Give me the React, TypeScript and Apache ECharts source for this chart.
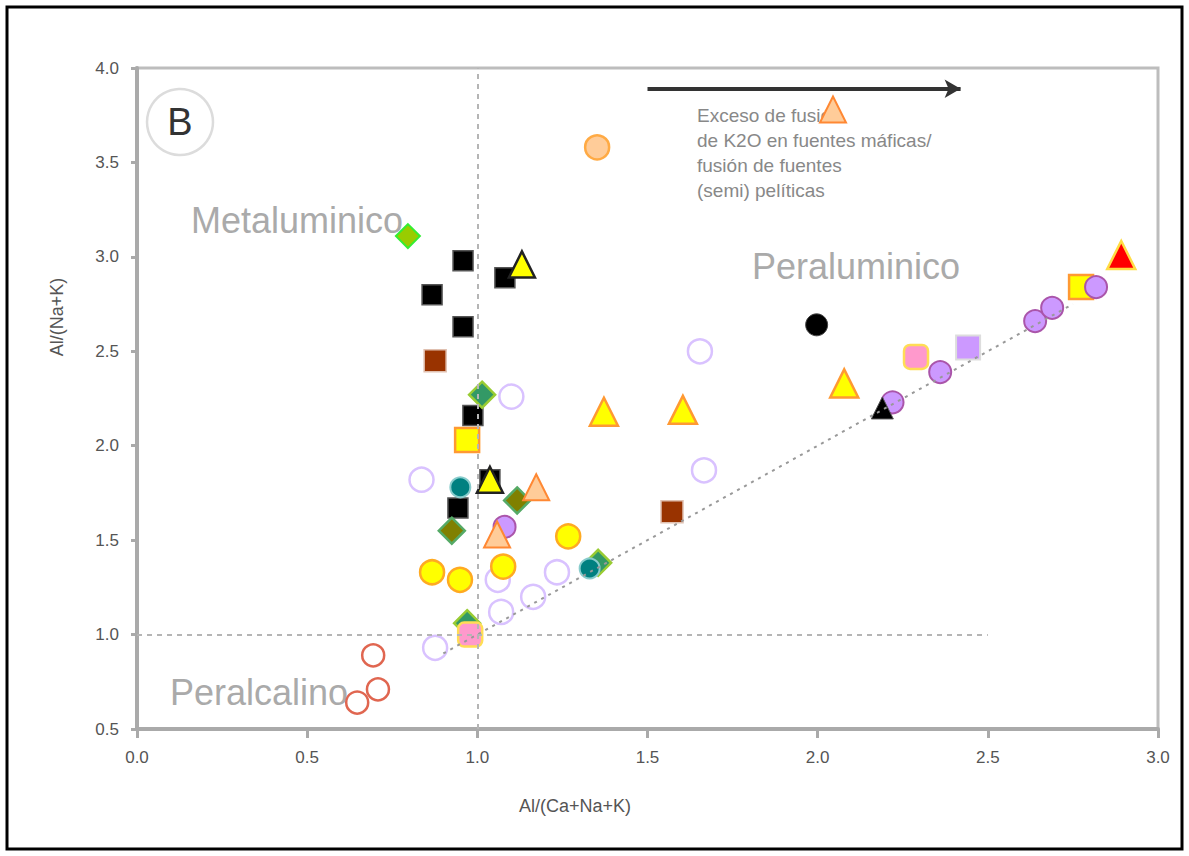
import React, { useEffect, useRef } from "react";
import * as echarts from "echarts";

// ---- data (A/CNK, A/NK) ----
const blackSquares = [[0.958, 2.98], [0.867, 2.80], [0.958, 2.63], [0.987, 2.16], [0.943, 1.67], [1.081, 2.89], [1.037, 1.82]];
const brownSquares = [[0.876, 2.45], [1.572, 1.65]];
const yellowSquares = [[0.970, 2.03], [2.774, 2.84]];
const lavenderSquares = [[2.442, 2.52]];
const pinkSquares = [[2.289, 2.47], [0.979, 1.0]];
const yellowTriBlack = [[1.131, 2.96], [1.037, 1.82]];
const yellowTriOrange = [[1.372, 2.18], [1.604, 2.19], [2.078, 2.33]];
const peachTri = [[2.045, 3.78], [1.173, 1.78], [1.058, 1.53]];
const redTri = [[2.892, 3.01]];
const blackTri = [[2.19, 2.2]];
const yellowCircles = [[0.867, 1.33], [0.949, 1.29], [1.076, 1.36], [1.267, 1.52]];
const peachCircles = [[1.352, 3.58]];
const blackCircles = [[1.997, 2.64]];
const purpleCircles = [[2.639, 2.66], [2.689, 2.73], [2.818, 2.84], [2.36, 2.39], [2.22, 2.23], [1.08, 1.57]];
const oliveDiamonds = [[0.925, 1.55], [1.117, 1.71]];
const greenDiamonds = [[1.014, 2.27], [1.355, 1.38], [0.97, 1.06]];
const limeDiamonds = [[0.796, 3.11]];
const tealCircles = [[0.95, 1.78], [1.33, 1.35]];
const hollowLavender = [[1.654, 2.5], [1.1, 2.26], [0.836, 1.82], [1.666, 1.87], [1.234, 1.33], [1.164, 1.2], [1.07, 1.12], [1.06, 1.29], [0.876, 0.93]];
const hollowRed = [[0.694, 0.89], [0.708, 0.71], [0.647, 0.64]];

const refLineY1 = 1.0;
const refLineX1 = 1.0;
const equalLine = [[0.9, 0.9], [2.75, 2.75]];
const arrowLine = [[1.5, 3.89], [2.42, 3.89]];
const annotationLines = ["Exceso de fusión", "de K2O en fuentes máficas/", "fusión de fuentes", "(semi) pelíticas"];

function sc(name: string, data: number[][], symbol: string, size: number, fill: string, border: string, bw: number) {
  return {
    name,
    type: "scatter",
    data,
    symbol,
    symbolSize: size,
    itemStyle: { color: fill, borderColor: border, borderWidth: bw, opacity: 1 },
    emphasis: { disabled: true },
  };
}

export default function App() {
  const ref = useRef<HTMLDivElement>(null);
  useEffect(() => {
    const chart = echarts.init(ref.current!, null, { renderer: "svg" });
    const gray = "#aaaaaa";
    const option: any = {
      animation: false,
      backgroundColor: "#ffffff",
      grid: { left: 137, right: 31, top: 68, bottom: 127, show: true, borderColor: "#bdbdbd", borderWidth: 3 },
      xAxis: {
        type: "value", min: 0, max: 3, interval: 0.5,
        axisLine: { show: true, lineStyle: { color: gray, width: 4 } },
        axisTick: { show: true, length: 9, lineStyle: { color: gray, width: 3 } },
        axisLabel: { formatter: (v: number) => v.toFixed(1), color: "#555", fontSize: 17, margin: 20, fontFamily: "Liberation Sans" },
        splitLine: { show: false },
      },
      yAxis: {
        type: "value", min: 0.5, max: 4, interval: 0.5,
        axisLine: { show: true, lineStyle: { color: gray, width: 4 } },
        axisTick: { show: true, length: 6, lineStyle: { color: gray, width: 3 } },
        axisLabel: { formatter: (v: number) => v.toFixed(1), color: "#555", fontSize: 17, margin: 18, fontFamily: "Liberation Sans" },
        splitLine: { show: false },
      },
      series: [
        {
          type: "line", data: equalLine, symbol: "none", silent: true,
          lineStyle: { color: "#999", width: 2, type: [3, 5] },
          markLine: {
            silent: true, symbol: "none", label: { show: false },
            data: [
              [{ coord: [0, refLineY1] }, { coord: [2.5, refLineY1] }],
              [{ coord: [refLineX1, 0.5] }, { coord: [refLineX1, 4.0] }],
            ],
            lineStyle: { color: "#b5b5b5", width: 2, type: [5, 5] },
          },
        },
        {
          type: "line", data: arrowLine, symbol: "none", silent: true,
          lineStyle: { color: "#444", width: 0, opacity: 0 },
          markLine: {
            silent: true, symbol: ["none", "arrow"], symbolSize: [14, 16], label: { show: false },
            data: [[{ coord: arrowLine[0] }, { coord: arrowLine[1] }]],
            lineStyle: { color: "#333", width: 4, type: "solid" },
          },
        },
        sc("hollowLavender", hollowLavender, "circle", 24, "#ffffff", "#d9c2ff", 2.5),
        sc("hollowRed", hollowRed, "circle", 22, "#ffffff", "#e06650", 2.5),
        sc("blackSquares", blackSquares, "rect", 20, "#000000", "#555555", 1.5),
        sc("brownSquares", brownSquares, "rect", 22, "#993300", "#e0c0b0", 1.5),
        sc("limeDiamonds", limeDiamonds, "diamond", 24, "#99cc00", "#33ee33", 2),
        sc("greenDiamonds", greenDiamonds, "diamond", 26, "#339966", "#99cc33", 2.5),
        sc("tealCircles", tealCircles, "circle", 20, "#008080", "#88cccc", 2),
        sc("oliveDiamonds", oliveDiamonds, "diamond", 26, "#808000", "#55aa66", 2.5),
        sc("yellowSquares", yellowSquares, "rect", 24, "#ffff00", "#ff9933", 2.5),
        sc("lavenderSquares", lavenderSquares, "rect", 24, "#cc99ff", "#dddddd", 2),
        sc("pinkSquares", pinkSquares, "roundRect", 24, "#ff99cc", "#ffdd55", 2.5),
        sc("purpleCircles", purpleCircles, "circle", 22, "#cc99ff", "#aa55aa", 2),
        sc("blackCircles", blackCircles, "circle", 22, "#000000", "#444444", 1),
        sc("blackTri", blackTri, "triangle", 22, "#000000", "#555555", 1),
        sc("yellowCircles", yellowCircles, "circle", 24, "#ffff00", "#ffaa22", 2.5),
        sc("peachCircles", peachCircles, "circle", 24, "#ffcc99", "#ffaa44", 2.5),
        sc("peachTri", peachTri, "triangle", 26, "#ffcc99", "#ff8833", 2),
        sc("yellowTriOrange", yellowTriOrange, "triangle", 28, "#ffff00", "#ff9933", 2.5),
        sc("yellowTriBlack", yellowTriBlack, "triangle", 26, "#ffff00", "#222222", 2.5),
        sc("redTri", redTri, "triangle", 28, "#ff0000", "#ffdd44", 2.5),
      ],
      graphic: [
        { type: "rect", shape: { x: 7, y: 7, width: 1175, height: 842 }, style: { fill: "none", stroke: "#000", lineWidth: 3 }, silent: true, z: 100 },
        { type: "circle", shape: { cx: 180, cy: 122, r: 33 }, style: { fill: "none", stroke: "#dcdcdc", lineWidth: 2.5 }, silent: true },
        { type: "text", x: 180, y: 122, style: { text: "B", fill: "#333", font: "38px 'Liberation Sans'", align: "center", verticalAlign: "middle" }, silent: true },
        { type: "text", x: 297, y: 220, style: { text: "Metaluminico", fill: "#aaaaaa", font: "36px 'Liberation Sans'", align: "center", verticalAlign: "middle" }, silent: true },
        { type: "text", x: 856, y: 266, style: { text: "Peraluminico", fill: "#aaaaaa", font: "36px 'Liberation Sans'", align: "center", verticalAlign: "middle" }, silent: true },
        { type: "text", x: 259, y: 692, style: { text: "Peralcalino", fill: "#aaaaaa", font: "36px 'Liberation Sans'", align: "center", verticalAlign: "middle" }, silent: true },
        { type: "text", x: 697, y: 103, z: -1, style: { text: annotationLines.join("\n"), fill: "#888", font: "19px 'Liberation Sans'", lineHeight: 25, align: "left", verticalAlign: "top" }, silent: true },
        { type: "text", x: 575, y: 806, style: { text: "Al/(Ca+Na+K)", fill: "#555", font: "18px 'Liberation Sans'", align: "center", verticalAlign: "middle" }, silent: true },
        { type: "text", x: 57, y: 317, rotation: Math.PI / 2, style: { text: "Al/(Na+K)", fill: "#555", font: "18px 'Liberation Sans'", align: "center", verticalAlign: "middle" }, silent: true },
      ],
    };
    chart.setOption(option);
    return () => chart.dispose();
  }, []);
  return <div ref={ref} style={{ position: "fixed", left: 0, top: 0, width: 1189, height: 856 }} />;
}
